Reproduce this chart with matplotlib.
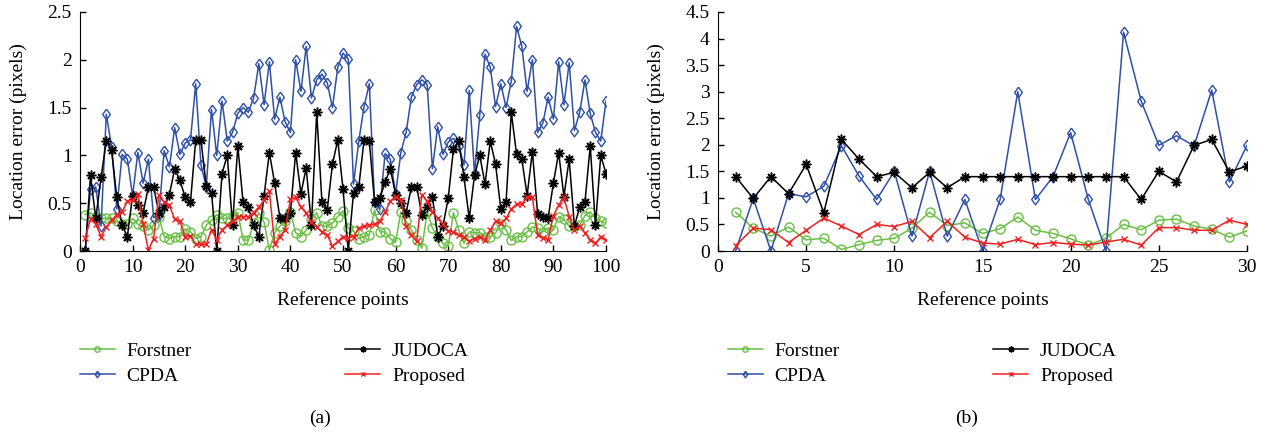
import numpy as np
import matplotlib
matplotlib.use("Agg")
import matplotlib.pyplot as plt

plt.rcParams['font.family'] = ['Liberation Serif', 'DejaVu Serif']

# --- panel (a): 100 reference points ---
pts_a = np.arange(1, 101)
forstner_a = [0.38, 0.40, 0.36, 0.34, 0.34, 0.34, 0.31, 0.28, 0.28, 0.34, 0.28, 0.26, 0.22, 0.27, 0.36, 0.15, 0.13, 0.15, 0.15, 0.23,
              0.20, 0.13, 0.15, 0.27, 0.32, 0.38, 0.34, 0.34, 0.37, 0.40, 0.12, 0.11, 0.29, 0.40, 0.30, 0.01, 0.19, 0.26, 0.31, 0.41,
              0.19, 0.15, 0.22, 0.33, 0.40, 0.26, 0.26, 0.29, 0.36, 0.42, 0.24, 0.21, 0.13, 0.15, 0.17, 0.43, 0.20, 0.20, 0.13, 0.09,
              0.41, 0.31, 0.22, 0.12, 0.03, 0.41, 0.24, 0.15, 0.08, 0.05, 0.40, 0.22, 0.08, 0.20, 0.19, 0.19, 0.15, 0.15, 0.19, 0.28,
              0.22, 0.11, 0.15, 0.15, 0.20, 0.25, 0.24, 0.20, 0.24, 0.22, 0.36, 0.33, 0.26, 0.26, 0.27, 0.37, 0.41, 0.34, 0.31, 0.29]
cpda_a = [0.00, 0.65, 0.67, 0.26, 1.43, 1.09, 0.44, 1.01, 0.96, 0.58, 1.03, 0.71, 0.96, 0.35, 0.38, 1.05, 0.88, 1.29, 1.01, 1.13,
          1.16, 1.75, 0.90, 0.67, 1.48, 1.00, 1.57, 1.15, 1.24, 1.44, 1.50, 1.45, 1.60, 1.96, 1.53, 1.98, 1.38, 1.61, 1.35, 1.24,
          2.00, 1.67, 2.14, 1.60, 1.79, 1.85, 1.76, 1.50, 1.92, 2.07, 2.01, 0.70, 1.15, 1.51, 1.75, 0.51, 0.44, 1.02, 0.96, 0.60,
          1.03, 1.24, 1.61, 1.74, 1.79, 1.74, 0.86, 1.30, 1.01, 1.14, 1.18, 1.10, 0.90, 1.68, 0.81, 1.42, 2.06, 1.92, 1.51, 1.75,
          1.50, 1.78, 2.35, 2.14, 1.67, 2.00, 1.24, 1.34, 1.61, 1.38, 1.98, 1.53, 1.97, 1.26, 1.45, 1.79, 1.44, 1.24, 1.15, 1.57]
judoca_a = [0.00, 0.79, 0.34, 0.77, 1.15, 1.06, 0.56, 0.27, 0.15, 0.58, 0.48, 0.40, 0.67, 0.67, 0.40, 0.46, 0.59, 0.86, 0.74, 0.56,
            0.51, 1.16, 1.16, 0.68, 0.61, 0.00, 0.81, 1.00, 0.27, 1.10, 0.51, 0.46, 0.27, 0.15, 0.58, 1.03, 0.71, 0.35, 0.35, 0.40,
            1.03, 0.60, 0.87, 0.27, 1.45, 0.51, 0.43, 0.91, 1.16, 0.65, 0.00, 0.61, 0.67, 1.16, 1.15, 0.51, 0.55, 0.72, 0.86, 0.59,
            0.50, 0.40, 0.67, 0.67, 0.38, 0.46, 0.57, 0.15, 0.26, 0.55, 1.07, 1.15, 0.77, 0.34, 0.79, 1.00, 0.70, 1.15, 0.91, 0.44,
            0.51, 1.45, 1.01, 0.96, 0.58, 1.04, 0.39, 0.36, 0.35, 0.71, 1.03, 0.57, 0.96, 0.26, 0.46, 0.51, 1.10, 0.27, 1.00, 0.81]
proposed_a = [0.14, 0.33, 0.28, 0.15, 0.25, 0.32, 0.38, 0.41, 0.52, 0.53, 0.60, 0.28, 0.01, 0.13, 0.59, 0.51, 0.48, 0.33, 0.31, 0.15,
              0.16, 0.07, 0.07, 0.07, 0.22, 0.12, 0.22, 0.27, 0.31, 0.36, 0.36, 0.36, 0.40, 0.46, 0.53, 0.63, 0.07, 0.15, 0.22, 0.54,
              0.56, 0.46, 0.40, 0.30, 0.25, 0.20, 0.17, 0.05, 0.10, 0.15, 0.14, 0.15, 0.24, 0.26, 0.27, 0.28, 0.31, 0.41, 0.52, 0.57,
              0.53, 0.26, 0.17, 0.10, 0.59, 0.52, 0.41, 0.34, 0.28, 0.21, 0.20, 0.17, 0.15, 0.10, 0.13, 0.15, 0.12, 0.22, 0.31, 0.29,
              0.34, 0.44, 0.49, 0.49, 0.57, 0.56, 0.17, 0.14, 0.12, 0.37, 0.48, 0.56, 0.36, 0.22, 0.26, 0.19, 0.12, 0.08, 0.15, 0.12]

# --- panel (b): 30 reference points ---
pts_b = np.arange(1, 31)
forstner_b = [0.73, 0.43, 0.28, 0.45, 0.21, 0.24, 0.03, 0.12, 0.20, 0.24, 0.43, 0.73, 0.48, 0.53, 0.33,
              0.42, 0.64, 0.39, 0.33, 0.23, 0.11, 0.24, 0.50, 0.40, 0.58, 0.60, 0.47, 0.41, 0.26, 0.38]
cpda_b = [0.00, 0.99, 0.00, 1.08, 1.02, 1.22, 1.98, 1.41, 0.97, 1.50, 0.28, 1.50, 0.28, 0.97, 0.00,
          0.97, 3.00, 0.97, 1.40, 2.23, 0.97, 0.00, 4.12, 2.82, 1.99, 2.17, 1.98, 3.03, 1.30, 1.99]
judoca_b = [1.40, 0.99, 1.40, 1.08, 1.63, 0.72, 2.10, 1.73, 1.40, 1.48, 1.19, 1.48, 1.19, 1.40, 1.40,
            1.40, 1.40, 1.40, 1.40, 1.40, 1.40, 1.40, 1.40, 0.97, 1.50, 1.30, 1.99, 2.10, 1.49, 1.60]
proposed_b = [0.10, 0.43, 0.40, 0.16, 0.39, 0.62, 0.47, 0.31, 0.50, 0.46, 0.56, 0.25, 0.56, 0.26, 0.15,
              0.13, 0.22, 0.12, 0.16, 0.13, 0.11, 0.17, 0.22, 0.11, 0.44, 0.44, 0.39, 0.39, 0.58, 0.50]

GREEN, BLUE, RED = '#6abf45', '#2f50a5', '#ee2222'
diamond = [(0, 1), (0.72, 0), (0, -1), (-0.72, 0), (0, 1)]

W, H = 1272, 434
fig = plt.figure(figsize=(W / 100, H / 100), dpi=100)
ax_a = fig.add_axes([80 / W, 1 - 251 / H, 526 / W, 239 / H])
ax_b = fig.add_axes([718 / W, 1 - 251 / H, 529 / W, 239 / H])


def draw(ax, x, fo, cp, ju, pr, ms, leg_x, width_px):
    ax.plot(x, fo, color=GREEN, lw=1.1, marker='o', ms=ms, mfc='none', mec=GREEN, mew=1.0, label='Forstner')
    ax.plot(x, cp, color=BLUE, lw=1.1, marker=diamond, ms=ms + 1.2, mfc='none', mec=BLUE, mew=1.0, label='CPDA')
    ax.plot(x, ju, color='black', lw=1.1, marker=(8, 2, 0), ms=ms + 0.5, mec='black', mew=1.1, label='JUDOCA')
    ax.plot(x, pr, color=RED, lw=1.1, marker='x', ms=ms - 2, mec=RED, mew=1.0, label='Proposed')
    for s in ('top', 'right'):
        ax.spines[s].set_visible(False)
    ax.tick_params(direction='in', labelsize=14, length=4, width=1, pad=6)
    ax.set_xlabel('Reference points', fontsize=14, va='center')
    ax.xaxis.set_label_coords(0.5, -(300 - 251) / 239)
    ax.set_ylabel('Location error (pixels)', fontsize=14, va='center', ha='center')
    ax.yaxis.set_label_coords(-62 / width_px, 0.5)
    ax.legend(ncol=2, frameon=False, fontsize=14, handlelength=1.8, handletextpad=0.6,
              columnspacing=7.9, labelspacing=0.4, markerscale=0.6, borderpad=0,
              loc='center left', bbox_transform=fig.transFigure,
              bbox_to_anchor=(leg_x / W, 1 - 363.5 / H))


draw(ax_a, pts_a, forstner_a, cpda_a, judoca_a, proposed_a, 6.5, 70, 526)
ax_a.set_xlim(0, 100)
ax_a.set_ylim(0, 2.5)
ax_a.set_xticks(np.arange(0, 101, 10))
ax_a.set_yticks(np.arange(0, 2.51, 0.5))
ax_a.set_yticklabels(['0', '0.5', '1', '1.5', '2', '2.5'])

draw(ax_b, pts_b, forstner_b, cpda_b, judoca_b, proposed_b, 6.5, 718, 529)
ax_b.set_xlim(0, 30)
ax_b.set_ylim(0, 4.5)
ax_b.set_xticks(np.arange(0, 31, 5))
ax_b.set_yticks(np.arange(0, 4.51, 0.5))
ax_b.set_yticklabels(['0', '0.5', '1', '1.5', '2', '2.5', '3', '3.5', '4', '4.5'])

fig.text(320 / W, 1 - 418 / H, '(a)', fontsize=14, ha='center', va='center')
fig.text(967 / W, 1 - 418 / H, '(b)', fontsize=14, ha='center', va='center')

fig.savefig('out.png', dpi=100, facecolor='white')
